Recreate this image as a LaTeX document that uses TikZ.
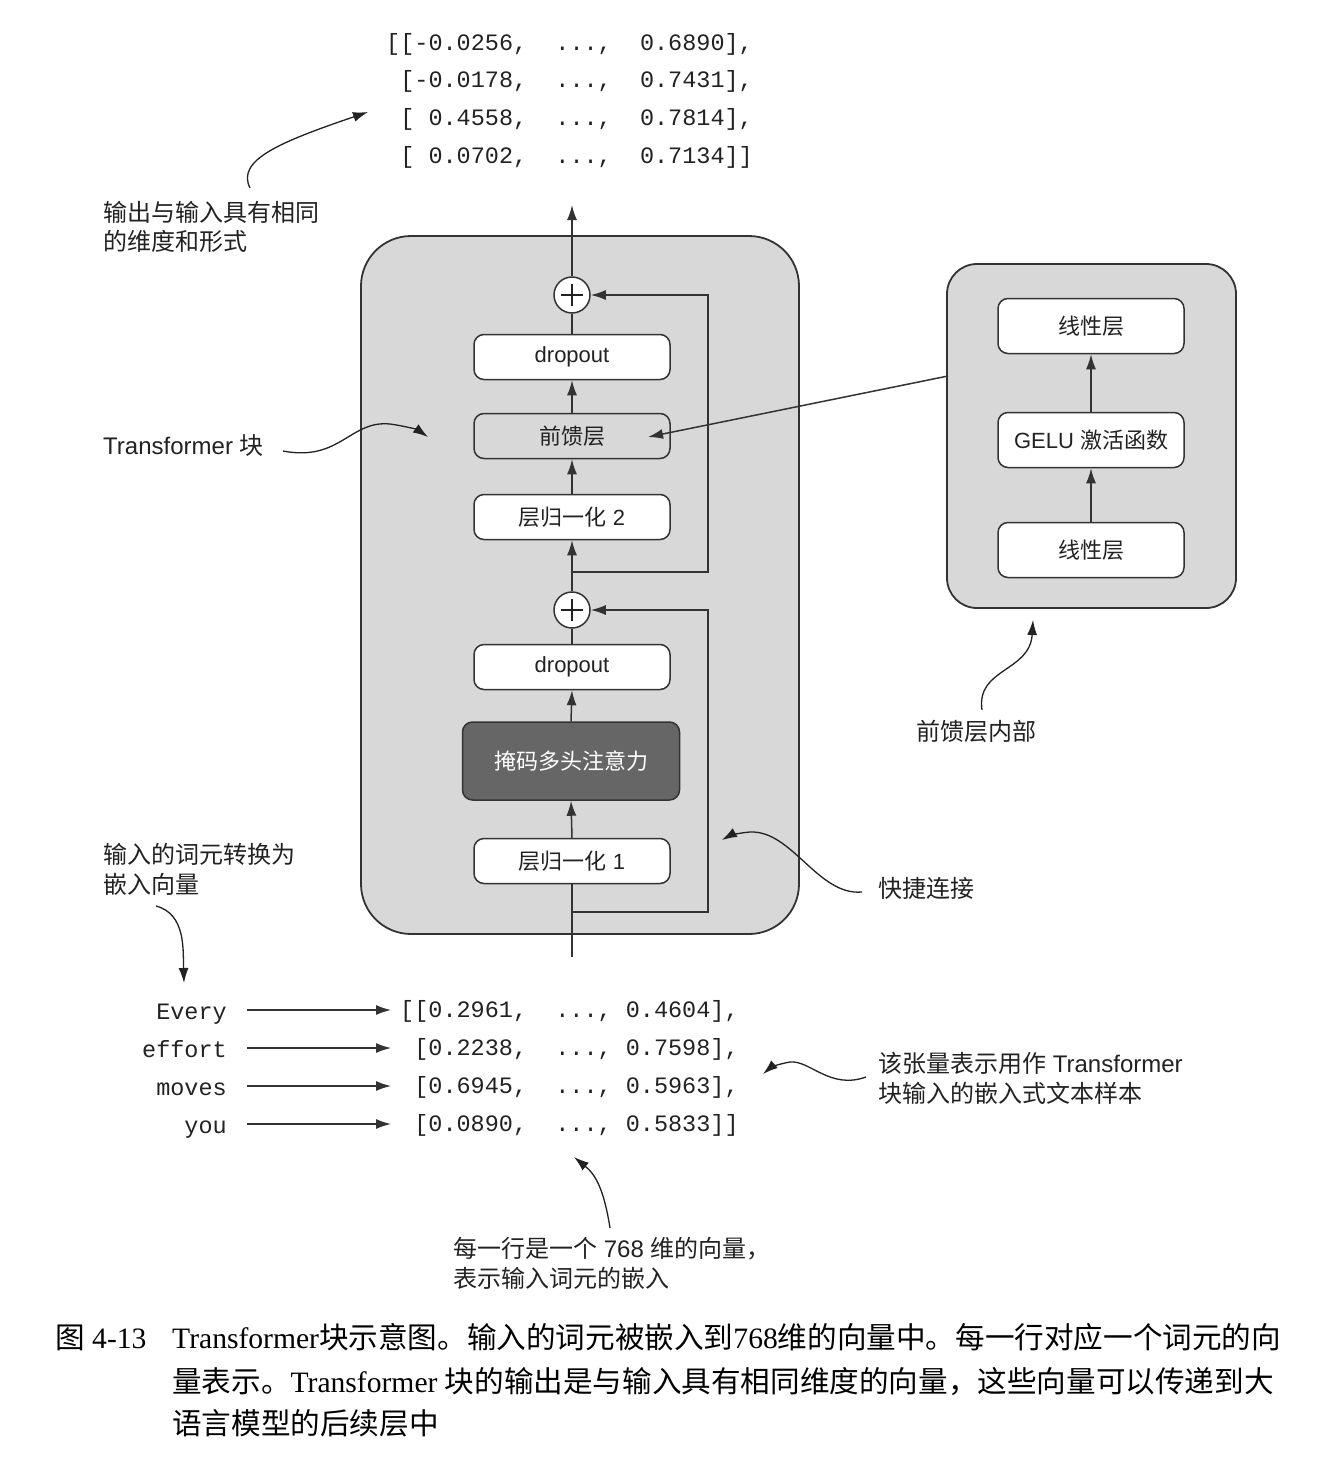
\documentclass[tikz,border=0pt]{standalone}
\usepackage{fontspec}
\setmainfont{Liberation Sans}
\setmonofont{Liberation Mono}
\newfontfamily\cjk{Noto Sans CJK SC}
\newfontfamily\serifl{Liberation Serif}
\usetikzlibrary{arrows.meta}
\newcommand{\zhtxt}[1]{{\cjk #1}}
\definecolor{edge}{HTML}{333333}
\definecolor{blockgray}{HTML}{D8D8D8}
\definecolor{mhagray}{HTML}{666666}
\definecolor{txt}{HTML}{222222}
\begin{document}
\begin{tikzpicture}[x=1pt,y=-1pt,
  blk/.style={draw=edge, line width=1.5pt, rounded corners=10pt, fill=white,
    minimum width=196pt, minimum height=45pt, inner sep=0pt,
    font=\fontsize{22}{26}\selectfont, text=txt},
  fblk/.style={blk, minimum width=186pt, minimum height=55pt},
  plusc/.style={circle, draw=edge, line width=1.5pt, fill=white, minimum size=36pt, inner sep=0pt},
  conn/.style={line width=1.5pt, draw=edge},
  arr/.style={conn, -{Latex[length=15pt,width=10pt]}},
  note/.style={line width=1.3pt, draw=txt, -{Latex[length=15pt,width=10pt]}},
  lab/.style={anchor=base west, inner sep=0pt, text=txt, font=\fontsize{24}{28}\selectfont},
  mono/.style={anchor=mid west, inner sep=0pt, text=txt, font=\ttfamily\fontsize{23.5}{28}\selectfont},
  word/.style={mono, anchor=mid east},
  captext/.style={anchor=base west, inner sep=0pt, text=black, font=\serifl\fontsize{29.6}{34}\selectfont}
]
\useasboundingbox (0,0) rectangle (1326,1462);
\fill[white] (0,0) rectangle (1326,1462);

% ---------- top output matrix ----------
\node[mono] (o1) at (386,48)  {[[-0.0256,~~...,~~0.6890],};
\node[mono] (o2) at (386,85)  {~[-0.0178,~~...,~~0.7431],};
\node[mono] (o3) at (386,123) {~[~0.4558,~~...,~~0.7814],};
\node[mono] (o4) at (386,161) {~[~0.0702,~~...,~~0.7134]]};

% ---------- transformer block ----------
\node[draw=edge, line width=1.8pt, fill=blockgray, rounded corners=50pt,
      minimum width=438pt, minimum height=698pt, inner sep=0pt] (tblock) at (580,585) {};

\node[plusc] (plus2) at (572,295) {};
\node[blk] (dropout2) at (572,357) {dropout};
\node[blk, fill=blockgray] (ffn) at (572,436) {\zhtxt{前馈层}};
\node[blk] (ln2) at (572,517) {\zhtxt{层归一化} 2};
\node[plusc] (plus1) at (572,610) {};
\node[blk] (dropout1) at (572,667) {dropout};
\node[blk, fill=mhagray, text=white, minimum width=217pt, minimum height=78pt] (mha) at (571,761) {\zhtxt{掩码多头注意力}};
\node[blk] (ln1) at (572,861) {\zhtxt{层归一化} 1};

% plus signs
\foreach \p in {plus1,plus2}{
  \draw[line width=2.4pt, draw=txt] ([yshift=-11pt]\p.center) -- ([yshift=11pt]\p.center);
  \draw[line width=2.4pt, draw=txt] ([xshift=-11pt]\p.center) -- ([xshift=11pt]\p.center);
}

\coordinate (in) at (572,957);
\coordinate (s1) at (572,912);
\coordinate (s1r) at (708,912);
\coordinate (s2) at (572,572);
\coordinate (s2r) at (708,572);
\coordinate (out) at (572,205);

\draw[conn] (in) -- (ln1.south);
\draw[arr] (ln1.north) -- (mha.south);
\draw[arr] (mha.north) -- (dropout1.south);
\draw[conn] (dropout1.north) -- (plus1.south);
\draw[arr] (plus1.north) -- (ln2.south);
\draw[arr] (ln2.north) -- (ffn.south);
\draw[arr] (ffn.north) -- (dropout2.south);
\draw[conn] (dropout2.north) -- (plus2.south);
\draw[arr] (plus2.north) -- (out);
\draw[arr] (s1) -- (s1r) |- (plus1.east);
\draw[arr] (s2) -- (s2r) |- (plus2.east);

% ---------- feed forward detail ----------
\node[draw=edge, line width=1.8pt, fill=blockgray, rounded corners=30pt,
      minimum width=289pt, minimum height=344pt, inner sep=0pt] (ffbox) at (1091.5,436) {};
\node[fblk] (lin2) at (1091,326) {\zhtxt{线性层}};
\node[fblk] (gelu) at (1091,440) {GELU \zhtxt{激活函数}};
\node[fblk] (lin1) at (1091,550) {\zhtxt{线性层}};
\draw[arr] (lin1.north) -- (gelu.south);
\draw[arr] (gelu.north) -- (lin2.south);
\coordinate (fa) at (948,376);
\coordinate (fb) at (648,437);
\draw[arr] (fa) -- (fb);

% ---------- input words and matrix ----------
\node[word] (w1) at (227,1017) {Every};
\node[word] (w2) at (227,1055) {effort};
\node[word] (w3) at (227,1093) {moves};
\node[word] (w4) at (227,1131) {you};
\node[mono] (e1) at (400,1015) {[[0.2961,~~...,~0.4604],};
\node[mono] (e2) at (400,1053) {~[0.2238,~~...,~0.7598],};
\node[mono] (e3) at (400,1091) {~[0.6945,~~...,~0.5963],};
\node[mono] (e4) at (400,1129) {~[0.0890,~~...,~0.5833]]};
\foreach \i/\y in {1/1010,2/1048,3/1086,4/1124}{
  \coordinate (wa\i) at (247,\y);
  \coordinate (wb\i) at (391,\y);
  \draw[arr, line width=1.3pt] (wa\i) -- (wb\i);
}

% ---------- annotation labels ----------
\node[lab] (l1a) at (103,221) {\zhtxt{输出与输入具有相同}};
\node[lab] (l1b) at (103,250) {\zhtxt{的维度和形式}};
\node[lab] (l2) at (103,454) {Transformer \zhtxt{块}};
\node[lab] (l3a) at (103,863) {\zhtxt{输入的词元转换为}};
\node[lab] (l3b) at (103,893) {\zhtxt{嵌入向量}};
\node[lab] (l4) at (878,897) {\zhtxt{快捷连接}};
\node[lab] (l5) at (916,740) {\zhtxt{前馈层内部}};
\node[lab] (l6a) at (878,1072) {\zhtxt{该张量表示用作} Transformer};
\node[lab] (l6b) at (878,1102) {\zhtxt{块输入的嵌入式文本样本}};
\node[lab] (l7a) at (453,1257) {\zhtxt{每一行是一个} 768 \zhtxt{维的向量，}};
\node[lab] (l7b) at (453,1287) {\zhtxt{表示输入词元的嵌入}};

% ---------- annotation curves ----------
\coordinate (c1s) at (250,188); \coordinate (c1e) at (368,112);
\draw[note] (c1s) .. controls (236,160) and (280,142) .. (c1e);
\coordinate (c2s) at (283,451); \coordinate (c2m) at (390,424); \coordinate (c2e) at (428,437);
\draw[note] (c2s) .. controls (340,462) and (350,420) .. (c2m) .. controls (405,426) and (418,430) .. (c2e);
\coordinate (c3s) at (156,906); \coordinate (c3e) at (184,983);
\draw[note] (c3s) .. controls (186,914) and (183,950) .. (c3e);
\coordinate (c4s) at (862,892); \coordinate (c4m) at (750,832); \coordinate (c4e) at (722,840);
\draw[note] (c4s) .. controls (818,896) and (792,830) .. (c4m) .. controls (738,833) and (729,836) .. (c4e);
\coordinate (c5s) at (982,710); \coordinate (c5e) at (1033,620);
\draw[note] (c5s) .. controls (976,668) and (1030,672) .. (c5e);
\coordinate (c6s) at (866,1077); \coordinate (c6m) at (790,1062); \coordinate (c6e) at (763,1074);
\draw[note] (c6s) .. controls (830,1090) and (810,1060) .. (c6m) .. controls (778,1064) and (770,1068) .. (c6e);
\coordinate (c7s) at (610,1228); \coordinate (c7e) at (574,1157);
\draw[note] (c7s) .. controls (604,1190) and (596,1175) .. (c7e);

% ---------- caption ----------
\node[captext] (cap0) at (55,1348) {\zhtxt{图} 4-13};
\node[captext] (cap1) at (172,1348) {Transformer\zhtxt{块示意图。输入的词元被嵌入到}768\zhtxt{维的向量中。每一行对应一个词元的向}};
\node[captext] (cap2) at (172,1392) {\zhtxt{量表示。}Transformer \zhtxt{块的输出是与输入具有相同维度的向量，这些向量可以传递到大}};
\node[captext] (cap3) at (172,1434) {\zhtxt{语言模型的后续层中}};
\end{tikzpicture}
\end{document}
